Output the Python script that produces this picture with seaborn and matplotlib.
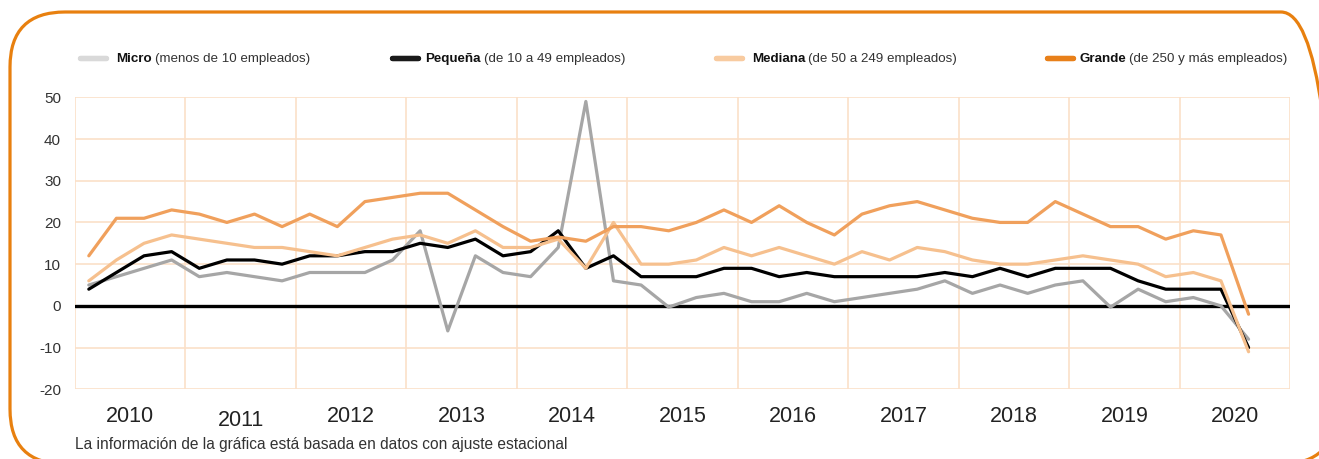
import numpy as np
import pandas as pd
import matplotlib.pyplot as plt
import seaborn as sns
from matplotlib.lines import Line2D
from matplotlib.patches import FancyBboxPatch
from matplotlib.transforms import ScaledTranslation

# Años (etiquetas del eje x), 4 trimestres por año
anios = ['2010', '2011', '2012', '2013', '2014', '2015',
         '2016', '2017', '2018', '2019', '2020']

# Series trimestrales 2010T1 - 2020T3
micro = [5, 7, 9, 11, 7, 8, 7, 6, 8, 8,
         8, 11, 18, -6, 12, 8, 7, 14, 49, 6,
         5, -0.3, 2, 3, 1, 1, 3, 1, 2, 3,
         4, 6, 3, 5, 3, 5, 6, -0.3, 4, 1,
         2, 0, -8]
pequena = [4, 8, 12, 13, 9, 11, 11, 10, 12, 12,
           13, 13, 15, 14, 16, 12, 13, 18, 9, 12,
           7, 7, 7, 9, 9, 7, 8, 7, 7, 7,
           7, 8, 7, 9, 7, 9, 9, 9, 6, 4,
           4, 4, -10]
mediana = [6, 11, 15, 17, 16, 15, 14, 14, 13, 12,
           14, 16, 17, 15, 18, 14, 14, 16, 9, 20,
           10, 10, 11, 14, 12, 14, 12, 10, 13, 11,
           14, 13, 11, 10, 10, 11, 12, 11, 10, 7,
           8, 6, -11]
grande = [12, 21, 21, 23, 22, 20, 22, 19, 22, 19,
          25, 26, 27, 27, 23, 19, 15.5, 16.5, 15.5, 19,
          19, 18, 20, 23, 20, 24, 20, 17, 22, 24,
          25, 23, 21, 20, 20, 25, 22, 19, 19, 16,
          18, 17, -2]

series = ['Micro', 'Pequeña', 'Mediana', 'Grande']
descripciones = ['(menos de 10 empleados)', '(de 10 a 49 empleados)',
                 '(de 50 a 249 empleados)', '(de 250 y más empleados)']
colores_linea = ['#a6a6a6', '#000000', '#f6c08e', '#f0a05c']
colores_leyenda = ['#d9d9d9', '#1a1a1a', '#f8cba0', '#e8801a']

df = pd.DataFrame({'Micro': micro, 'Pequeña': pequena,
                   'Mediana': mediana, 'Grande': grande})
df['trimestre'] = np.arange(len(df))
df_long = df.melt(id_vars='trimestre', var_name='serie', value_name='valor')

sns.set_style('white')
plt.rcParams['font.family'] = ['Liberation Sans', 'DejaVu Sans']
plt.rcParams['axes.unicode_minus'] = False

W, H = 1319, 459
fig = plt.figure(figsize=(W / 100, H / 100), dpi=100)
ax = fig.add_axes([75 / W, 1 - 389.3 / H, 1215 / W, 292 / H])

sns.lineplot(data=df_long, x='trimestre', y='valor', hue='serie',
             hue_order=series, palette=colores_linea, linewidth=2.3,
             legend=False, ax=ax, zorder=3)

n_trim = len(anios) * 4
ax.set_xlim(-0.5, n_trim - 0.5)
ax.set_ylim(-20, 50)
ax.set_yticks(range(-20, 51, 10))
ax.set_xticks([1.5 + 4 * i for i in range(len(anios))])
ax.set_xticklabels(anios, fontsize=15.5, color='#222222')
ax.tick_params(axis='y', labelsize=11, colors='#333333', length=0, pad=10)
ax.tick_params(axis='x', length=0, pad=12)
ax.set_xlabel('')
ax.set_ylabel('')
# en el original la etiqueta 2011 aparece algo más abajo
lbl = ax.get_xticklabels()[1]
lbl.set_transform(lbl.get_transform() +
                  ScaledTranslation(0, -4 / 100, fig.dpi_scale_trans))

# Cuadrícula naranja claro
grid_color = '#fbe0c8'
for v in range(-20, 51, 10):
    ax.axhline(v, color=grid_color, linewidth=1.2, zorder=1)
for i in range(len(anios) + 1):
    ax.axvline(-0.5 + 4 * i, color=grid_color, linewidth=1.2, zorder=1)
ax.axhline(0, color='black', linewidth=2.4, zorder=2)
for s in ax.spines.values():
    s.set_visible(False)

# Leyenda (una entrada por serie, posiciones como en el original)
leg_x = [80, 392, 716, 1047]
txt_x = [116, 425, 752, 1079]
ley_y = 1 - 59 / H
for i, nombre in enumerate(series):
    h = Line2D([], [], color=colores_leyenda[i], linewidth=3.8,
               solid_capstyle='round')
    leg = fig.legend([h], [''], loc='center left', frameon=False,
                     bbox_to_anchor=(leg_x[i] / W, ley_y),
                     handlelength=1.87, handletextpad=0, borderpad=0,
                     borderaxespad=0, fontsize=10)
    fig.add_artist(leg)
    t = fig.text(txt_x[i] / W, ley_y, nombre, fontsize=9.6,
                 fontweight='bold', va='center', ha='left', color='#111111')
    fig.canvas.draw()
    bb = t.get_window_extent()
    fig.text((bb.x1 + 3) / W, ley_y, descripciones[i],
             fontsize=9.6, va='center', ha='left', color='#333333')

fig.text(75 / W, 1 - 444 / H,
         'La información de la gráfica está basada en datos con ajuste estacional',
         fontsize=11.2, va='center', ha='left', color='#333333')

# Marco naranja redondeado (el borde derecho queda fuera de la imagen)
marco = FancyBboxPatch((0.10, -0.05), 13.26, 4.52,
                       boxstyle='round,pad=0,rounding_size=0.55',
                       transform=fig.dpi_scale_trans, fill=False,
                       edgecolor='#e8800f', linewidth=2.3, clip_on=False)
fig.add_artist(marco)

fig.savefig('out.png', dpi=100)
plt.close()
